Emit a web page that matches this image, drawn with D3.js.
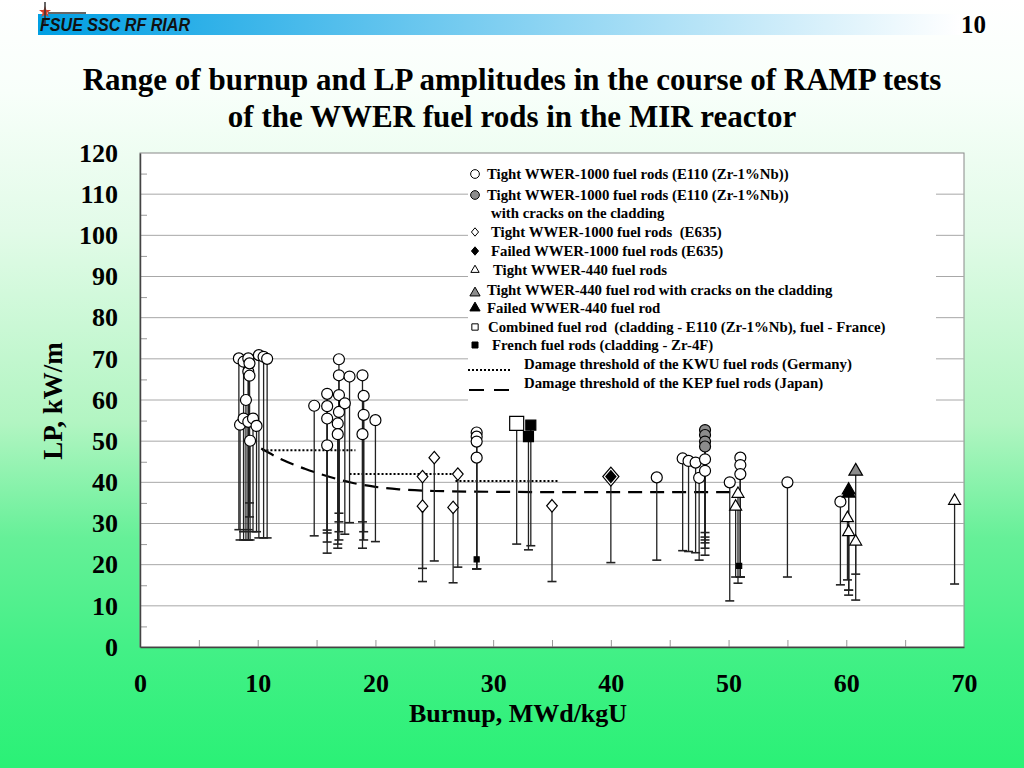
<!DOCTYPE html>
<html lang="en">
<head>
<meta charset="UTF-8">
<script src="https://cdnjs.cloudflare.com/ajax/libs/d3/7.8.5/d3.min.js"></script>
<title>Range of burnup and LP amplitudes - RAMP tests</title>
<style>
    body { margin: 0; }
    svg { display: block; }
</style>
</head>
<body>
<div id="chart"></div>
<script>
    // every rod: [burnup MWd/kgU, LP low kW/m, LP high kW/m]
    const tightE110 = [
        [8.4, 28.5, 70.1], [8.5, 26, 54], [8.8, 28, 69.3], [8.8, 26, 55.5], [9.0, 26, 60],
        [9.2, 28.5, 70.1], [9.2, 26, 66.9], [9.2, 26, 54.7], [9.3, 35, 68.9], [9.3, 31.6, 65.9],
        [9.35, 26, 50.1], [9.6, 28, 55.5], [9.9, 28, 53.7], [10.1, 26.5, 70.9], [10.5, 26.5, 70.5],
        [10.8, 26.5, 70],
        [14.8, 27, 58.6], [15.9, 28.4, 61.5], [15.9, 27.7, 58.5], [15.9, 25.5, 55.5], [15.9, 22.8, 49],
        [16.9, 32.5, 69.9], [16.9, 30.4, 66], [16.9, 28, 61.2], [16.9, 26, 57.1], [16.8, 25, 54.3],
        [16.8, 24, 51.7], [17.4, 27.4, 59.2], [17.8, 30.2, 65.7], [18.9, 30.4, 66], [19.0, 28, 61],
        [19.0, 26, 56.4], [18.9, 24, 51.7], [20.0, 25.6, 55.1],
        [28.6, 19, 52.1], [28.6, 19, 51.1], [28.6, 19, 49.9], [28.6, 19, 46],
        [43.9, 21.1, 41.2], [46.1, 23.4, 45.8], [46.6, 23.2, 45.2], [47.2, 22.9, 44.8], [47.5, 21.1, 41.1],
        [48.0, 22.3, 45.6], [48.0, 24, 42.8], [50.1, 11.2, 40], [51.0, 17, 46], [51.0, 17, 44.2],
        [51.0, 17, 42], [55.0, 17, 40], [59.5, 15.1, 35.3]
    ];
    const crackedE110 = [[48.0, 25.3, 52.7], [48.0, 26, 51.5], [48.0, 26.7, 49.9], [48.0, 27.8, 48.7]];
    const tightE635 = [[24.0, 15.9, 41.4], [24.0, 19.1, 34.2], [25.0, 20.9, 46], [27.0, 19.4, 42],
        [26.6, 15.6, 33.9], [35.0, 15.9, 34.3]];
    const failedE635 = [[40.0, 20.5, 41.4]];
    const tight440 = [[50.8, 15.5, 37.2], [50.6, 17, 34.1], [60.1, 16.3, 31.3], [60.2, 13.8, 27.9],
        [60.8, 11.4, 25.6], [69.2, 15.3, 35.5]];
    const cracked440 = [[60.8, 17.7, 42.7]];
    const failed440 = [[60.2, 12.6, 38.1], [60.2, 13.8, 37.3]];
    const combined = [[32.0, 25, 54.3]];
    const french = [[33.2, 24.6, 53.9], [33.0, 23.6, 51.1]];
    // small French rod marks sitting low on the stems: [burnup, LP]
    const frenchLow = [[28.6, 21.3], [50.9, 19.7]];

    // damage thresholds
    const kwuSteps = [[10.4, 18.3, 47.8], [17.8, 26.8, 42.0], [26.8, 35.5, 40.3]]; // [from, to, LP]
    const kepCurve = [[10.3, 48.2], [12, 45.6], [14, 43.3], [16, 41.4], [18, 39.9], [20, 38.9],
        [22, 38.3], [25, 37.9], [30, 37.7], [40, 37.6], [50.7, 37.6]];

    const xTicks = [0, 10, 20, 30, 40, 50, 60, 70];
    const yTicks = [0, 10, 20, 30, 40, 50, 60, 70, 80, 90, 100, 110, 120];

    const legendItems = [
        { key: "circle", text: "Tight WWER-1000 fuel rods (E110 (Zr-1%Nb))" },
        { key: "circleGray", text: "Tight WWER-1000 fuel rods (E110 (Zr-1%Nb))" },
        { key: "none", text: "with cracks on the cladding" },
        { key: "diamond", text: "Tight WWER-1000 fuel rods  (E635)" },
        { key: "diamondBlack", text: "Failed WWER-1000 fuel rods (E635)" },
        { key: "triangle", text: "Tight WWER-440 fuel rods" },
        { key: "triangleGray", text: "Tight WWER-440 fuel rod with cracks on the cladding" },
        { key: "triangleBlack", text: "Failed WWER-440 fuel rod" },
        { key: "square", text: "Combined fuel rod  (cladding - E110 (Zr-1%Nb), fuel - France)" },
        { key: "squareBlack", text: "French fuel rods (cladding - Zr-4F)" },
        { key: "dotted", text: "Damage threshold of the KWU fuel rods (Germany)" },
        { key: "dashed", text: "Damage threshold of the KEP fuel rods (Japan)" }
    ];

    const width = 1024, height = 768;
    const serif = "'Liberation Serif', 'Times New Roman', serif";

    const x = d3.scaleLinear([0, 70], [140, 964]);
    const y = d3.scaleLinear([0, 120], [647, 153]);

    // diamond a bit narrower than tall, like the original
    const diamond = {
        draw(ctx, size) {
            const h = Math.sqrt(size) / 1.6, w = h * 0.85;
            ctx.moveTo(0, -h); ctx.lineTo(w, 0); ctx.lineTo(0, h); ctx.lineTo(-w, 0); ctx.closePath();
        }
    };

    const svg = d3.create("svg")
        .attr("width", width)
        .attr("height", height)
        .attr("viewBox", [0, 0, width, height])
        .style("font-family", serif);

    const defs = svg.append("defs");
    const bg = defs.append("linearGradient").attr("id", "bg").attr("x1", 0).attr("y1", 0).attr("x2", 0).attr("y2", 1);
    [[0, "#ffffff"], [0.12, "#f8fffa"], [0.3, "#e2fbe8"], [0.55, "#b2f5c2"], [0.7, "#66f098"], [0.85, "#42f086"], [1, "#2af176"]]
        .forEach(([o, c]) => bg.append("stop").attr("offset", o).attr("stop-color", c));
    const band = defs.append("linearGradient").attr("id", "band");
    band.append("stop").attr("offset", 0).attr("stop-color", "#009fe3");
    band.append("stop").attr("offset", 1).attr("stop-color", "#ffffff");

    svg.append("rect").attr("width", width).attr("height", height).attr("fill", "url(#bg)");

    // header band
    svg.append("rect").attr("x", 38).attr("y", 14).attr("width", 922).attr("height", 21).attr("fill", "url(#band)");
    svg.append("line").attr("x1", 48).attr("x2", 86).attr("y1", 13).attr("y2", 13)
        .attr("stroke", "#666").attr("stroke-width", 2);
    svg.append("path").attr("transform", "translate(45,12)")
        .attr("d", d3.symbol(d3.symbolStar, 45)()).attr("fill", "#d9402a");
    svg.append("line").attr("x1", 45).attr("x2", 45).attr("y1", 2).attr("y2", 24)
        .attr("stroke", "#333").attr("stroke-width", 1.5);
    svg.append("text").attr("x", 40).attr("y", 31)
        .attr("font-family", "'Liberation Sans Narrow', 'Liberation Sans', Arial, sans-serif")
        .attr("font-style", "italic").attr("font-weight", "bold").attr("font-size", 19)
        .attr("textLength", 150).attr("lengthAdjust", "spacingAndGlyphs").attr("fill", "#111")
        .text("FSUE SSC RF RIAR");
    svg.append("text").attr("x", 986).attr("y", 33).attr("text-anchor", "end")
        .attr("font-weight", "bold").attr("font-size", 25).text("10");

    // title
    svg.append("text").attr("x", 512).attr("y", 90).attr("text-anchor", "middle")
        .attr("font-weight", "bold").attr("font-size", 31)
        .text("Range of burnup and LP amplitudes in the course of RAMP tests");
    svg.append("text").attr("x", 512).attr("y", 127).attr("text-anchor", "middle")
        .attr("font-weight", "bold").attr("font-size", 31)
        .text("of the WWER fuel rods in the MIR reactor");

    // plot area
    svg.append("rect").attr("x", x(0)).attr("y", y(120))
        .attr("width", x(70) - x(0)).attr("height", y(0) - y(120))
        .attr("fill", "#fff").attr("stroke", "#888");

    svg.append("g")
        .selectAll("line")
        .data(yTicks.filter(v => v > 0 && v < 120))
        .join("line")
        .attr("x1", x(0)).attr("x2", x(70))
        .attr("y1", d => y(d)).attr("y2", d => y(d))
        .attr("stroke", "#a8a8a8");

    // minor ticks
    svg.append("g")
        .attr("transform", `translate(${x(0)},0)`)
        .call(d3.axisLeft(y).tickValues(d3.range(5, 120, 10)).tickSize(-7).tickFormat(""))
        .call(g => g.select(".domain").remove())
        .call(g => g.selectAll(".tick line").attr("stroke", "#999"));
    svg.append("g")
        .attr("transform", `translate(0,${y(0)})`)
        .call(d3.axisBottom(x).tickValues(d3.range(5, 70, 5)).tickSize(-7).tickFormat(""))
        .call(g => g.select(".domain").remove())
        .call(g => g.selectAll(".tick line").attr("stroke", "#999"));

    // legend box (covers the gridlines)
    const legend = svg.append("g");
    legend.append("rect").attr("x", 468).attr("y", 158).attr("width", 468).attr("height", 244).attr("fill", "#fff");
    const legendY = [174, 195, 213, 232, 251, 270, 290, 308, 327, 345, 364, 383];
    const legendX = [487, 487, 491, 491, 491, 493, 487, 487, 488, 492, 524, 524];

    // main axes
    svg.append("g")
        .attr("transform", `translate(${x(0)},0)`)
        .call(d3.axisLeft(y).tickValues(yTicks).tickSize(0).tickPadding(22))
        .call(g => g.select(".domain").attr("stroke", "#444").attr("stroke-width", 1.5))
        .call(g => g.selectAll("text").attr("font-family", serif).attr("font-weight", "bold")
            .attr("font-size", 26).attr("fill", "#000"));
    svg.append("g")
        .attr("transform", `translate(0,${y(0)})`)
        .call(d3.axisBottom(x).tickValues(xTicks).tickSize(0).tickPadding(27))
        .call(g => g.select(".domain").attr("stroke", "#444").attr("stroke-width", 1.5))
        .call(g => g.selectAll("text").attr("font-family", serif).attr("font-weight", "bold")
            .attr("font-size", 26).attr("fill", "#000"));

    svg.append("text").attr("x", 518).attr("y", 722).attr("text-anchor", "middle")
        .attr("font-weight", "bold").attr("font-size", 26).text("Burnup, MWd/kgU");
    svg.append("text").attr("transform", "translate(62,401) rotate(-90)").attr("text-anchor", "middle")
        .attr("font-weight", "bold").attr("font-size", 27).text("LP, kW/m");

    // thresholds
    const thr = svg.append("g").attr("fill", "none").attr("stroke", "#000");
    thr.selectAll("line")
        .data(kwuSteps)
        .join("line")
        .attr("x1", d => x(d[0])).attr("x2", d => x(d[1]))
        .attr("y1", d => y(d[2])).attr("y2", d => y(d[2]))
        .attr("stroke-width", 2).attr("stroke-dasharray", "2,2");
    thr.append("path")
        .attr("d", d3.line().curve(d3.curveMonotoneX).x(d => x(d[0])).y(d => y(d[1]))(kepCurve))
        .attr("stroke-width", 2.2).attr("stroke-dasharray", "14,8");

    // rods: stems first, markers on top
    const series = [
        { data: tightE110, sym: d3.symbolCircle, size: 95, fill: "#fff" },
        { data: crackedE110, sym: d3.symbolCircle, size: 95, fill: "#8c8c8c" },
        { data: tightE635, sym: diamond, size: 100, fill: "#fff" },
        { data: failedE635, sym: diamond, size: 230, fill: "#fff", inner: 90 },
        { data: tight440, sym: d3.symbolTriangle, size: 62, fill: "#fff" },
        { data: cracked440, sym: d3.symbolTriangle, size: 80, fill: "#8c8c8c" },
        { data: failed440, sym: d3.symbolTriangle, size: 70, fill: "#000" },
        { data: combined, sym: d3.symbolSquare, size: 196, fill: "#fff" },
        { data: french, sym: d3.symbolSquare, size: 100, fill: "#000" }
    ];
    const allRods = series.flatMap(s => s.data);

    const stems = svg.append("g").attr("stroke", "#222").attr("stroke-width", 1.3);
    stems.selectAll(".stem")
        .data(allRods)
        .join("line")
        .attr("class", "stem")
        .attr("x1", d => x(d[0])).attr("x2", d => x(d[0]))
        .attr("y1", d => y(d[1])).attr("y2", d => y(d[2]));
    stems.selectAll(".cap")
        .data(allRods)
        .join("line")
        .attr("class", "cap")
        .attr("x1", d => x(d[0]) - 4.5).attr("x2", d => x(d[0]) + 4.5)
        .attr("y1", d => y(d[1])).attr("y2", d => y(d[1]))
        .attr("stroke-width", 1.6);

    const marks = svg.append("g").attr("stroke", "#000").attr("stroke-width", 1.2);
    series.forEach(s => {
        marks.append("g")
            .selectAll("path")
            .data(s.data)
            .join("path")
            .attr("transform", d => `translate(${x(d[0])},${y(d[2])})`)
            .attr("d", d3.symbol(s.sym, s.size)())
            .attr("fill", s.fill);
        if (s.inner) {
            marks.append("g")
                .selectAll("path")
                .data(s.data)
                .join("path")
                .attr("transform", d => `translate(${x(d[0])},${y(d[2])})`)
                .attr("d", d3.symbol(s.sym, s.inner)())
                .attr("fill", "#000");
        }
    });
    marks.append("g")
        .selectAll("path")
        .data(frenchLow)
        .join("path")
        .attr("transform", d => `translate(${x(d[0])},${y(d[1])})`)
        .attr("d", d3.symbol(d3.symbolSquare, 25)())
        .attr("fill", "#000");

    // legend entries
    const legendSym = {
        circle: [d3.symbolCircle, 60, "#fff"],
        circleGray: [d3.symbolCircle, 60, "#8c8c8c"],
        diamond: [diamond, 45, "#fff"],
        diamondBlack: [diamond, 45, "#000"],
        triangle: [d3.symbolTriangle, 30, "#fff"],
        triangleGray: [d3.symbolTriangle, 45, "#8c8c8c"],
        triangleBlack: [d3.symbolTriangle, 45, "#000"],
        square: [d3.symbolSquare, 40, "#fff"],
        squareBlack: [d3.symbolSquare, 36, "#000"]
    };
    legendItems.forEach((it, i) => {
        const ly = legendY[i];
        if (legendSym[it.key]) {
            const [sym, size, fill] = legendSym[it.key];
            legend.append("path")
                .attr("transform", `translate(475,${it.key === "triangleGray" ? ly + 3 : ly})`)
                .attr("d", d3.symbol(sym, size)())
                .attr("fill", fill).attr("stroke", "#000").attr("stroke-width", 1);
        } else if (it.key === "dotted") {
            legend.append("line").attr("x1", 468).attr("x2", 512).attr("y1", ly + 6).attr("y2", ly + 6)
                .attr("stroke", "#000").attr("stroke-width", 2).attr("stroke-dasharray", "2,2");
        } else if (it.key === "dashed") {
            legend.append("line").attr("x1", 469).attr("x2", 509).attr("y1", ly + 7).attr("y2", ly + 7)
                .attr("stroke", "#000").attr("stroke-width", 2.2).attr("stroke-dasharray", "15,10");
        }
        legend.append("text")
            .attr("x", legendX[i]).attr("y", ly + 5)
            .attr("font-weight", "bold").attr("font-size", 14.8)
            .style("white-space", "pre")
            .text(it.text);
    });

    d3.select("#chart").node().appendChild(svg.node());
</script>
</body>
</html>
